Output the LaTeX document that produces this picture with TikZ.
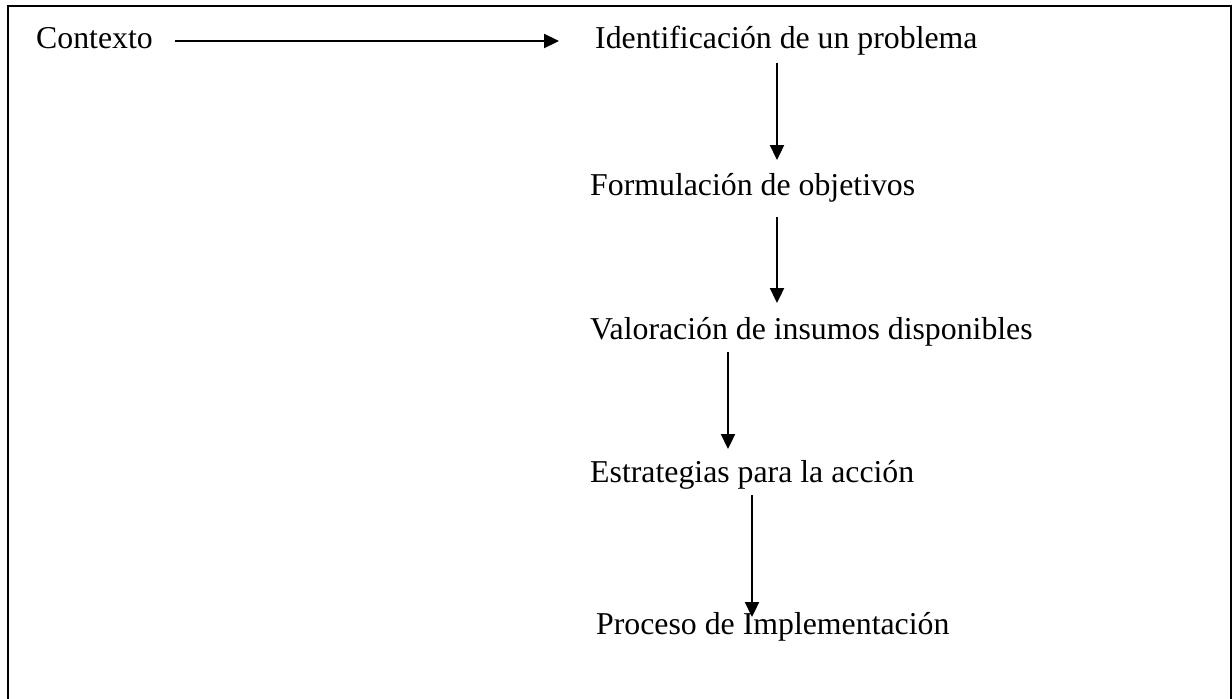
\documentclass[tikz,border=0pt]{standalone}
\usepackage{fontspec}
\setmainfont{Liberation Serif}
\usetikzlibrary{arrows.meta}
\begin{document}
\begin{tikzpicture}[x=1pt,y=-1pt,
  lbl/.style={inner sep=0pt,anchor=base west,font=\fontsize{31.8}{36}\selectfont},
  conn/.style={line width=2.3pt,-{Triangle[length=15pt,width=14pt]}},
  frame/.style={line width=2pt}]
\useasboundingbox (0,0) rectangle (1232,699);
\draw[frame] (7.5,706) -- (7.5,6) -- (1230.5,6) -- (1230.5,706);
\node[lbl] (ctx) at (36,48) {Contexto};
\node[lbl] (idp) at (595,48) {Identificación de un problema};
\node[lbl] (fo) at (590,195.5) {Formulación de objetivos};
\node[lbl] (vi) at (590,339) {Valoración de insumos disponibles};
\node[lbl] (ea) at (590,482.5) {Estrategias para la acción};
\node[lbl] (pi) at (596,634) {Proceso de Implementación};
\coordinate (h1) at (175,41);
\coordinate (h2) at (559,41);
\draw[conn] (h1) -- (h2);
\draw[conn] (777,63) -- (777,160);
\draw[conn] (777,217) -- (777,303);
\draw[conn] (728,352) -- (728,449);
\draw[conn] (752,495) -- (752,617);
\end{tikzpicture}
\end{document}
